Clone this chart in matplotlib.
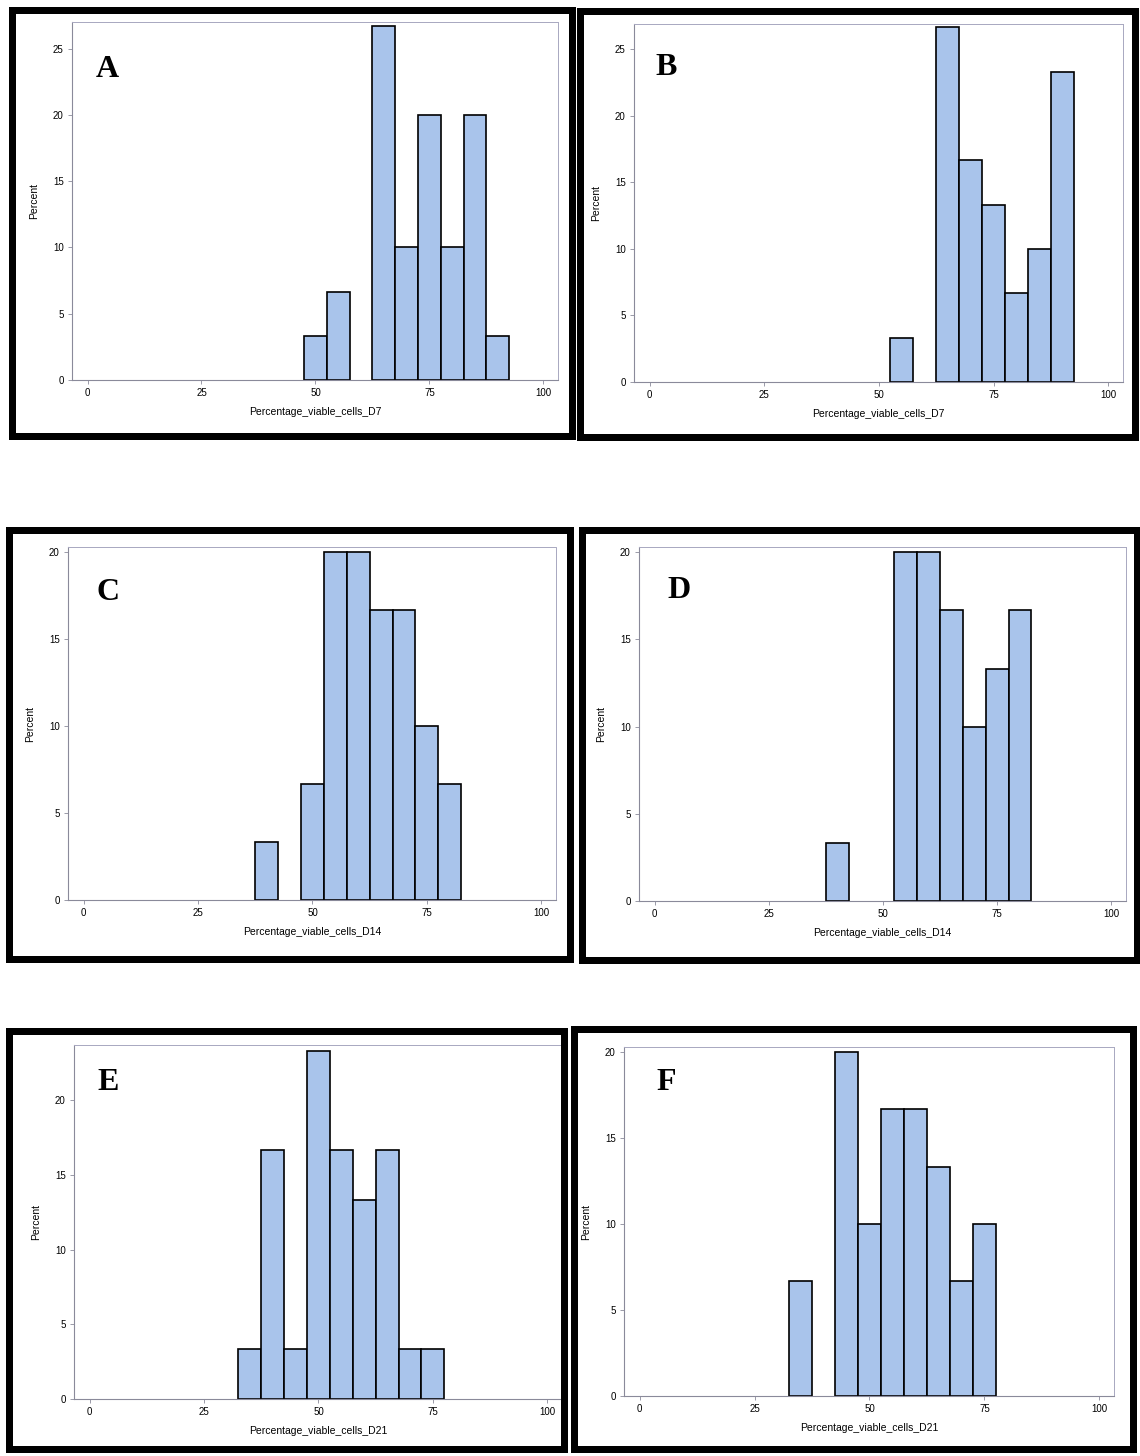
import matplotlib
matplotlib.use("Agg")
import matplotlib.pyplot as plt
from matplotlib.patches import Rectangle
import numpy as np

# bin centres (width 5) and percent of samples per bin
bins_a = [50, 55, 60, 65, 70, 75, 80, 85, 90]
pct_a = [3.33, 6.67, 0, 26.67, 10, 20, 10, 20, 3.33]
bins_b = [55, 60, 65, 70, 75, 80, 85, 90]
pct_b = [3.33, 0, 26.67, 16.67, 13.33, 6.67, 10, 23.33]
bins_c = [40, 45, 50, 55, 60, 65, 70, 75, 80]
pct_c = [3.33, 0, 6.67, 20, 20, 16.67, 16.67, 10, 6.67]
bins_d = [40, 45, 50, 55, 60, 65, 70, 75, 80]
pct_d = [3.33, 0, 0, 20, 20, 16.67, 10, 13.33, 16.67]
bins_e = [35, 40, 45, 50, 55, 60, 65, 70, 75]
pct_e = [3.33, 16.67, 3.33, 23.33, 16.67, 13.33, 16.67, 3.33, 3.33]
bins_f = [35, 40, 45, 50, 55, 60, 65, 70, 75]
pct_f = [6.67, 0, 20, 10, 16.67, 16.67, 13.33, 6.67, 10]

letters = ["A", "B", "C", "D", "E", "F"]
xlabels = ["Percentage_viable_cells_D7", "Percentage_viable_cells_D7",
           "Percentage_viable_cells_D14", "Percentage_viable_cells_D14",
           "Percentage_viable_cells_D21", "Percentage_viable_cells_D21"]
x_ticks = [0, 25, 50, 75, 100]

W, H = 1140, 1456
fig = plt.figure(figsize=(W / 100, H / 100), dpi=100)
fig.patch.set_facecolor("white")

sans = ["Liberation Sans Narrow", "Liberation Sans", "DejaVu Sans"]

# pixel boxes: axes (left, top, right, bottom), frame (left, top, right, bottom)
ax_px = [(72, 22, 558, 380), (634, 24, 1123, 382),
         (68, 547, 556, 900), (639, 547, 1126, 901),
         (74, 1045, 562, 1399), (624, 1047, 1114, 1396)]
frame_px = [(8, 7, 575, 440), (576, 8, 1138, 441),
            (5, 527, 573, 962), (578, 527, 1140, 963),
            (5, 1027, 567, 1452), (570, 1025, 1136, 1452)]
ytops = [27.0, 26.9, 20.3, 20.3, 23.7, 20.3]
letter_pos = [(96, 77), (655, 75), (96, 600), (667, 598), (97, 1090), (656, 1090)]

data = [(bins_a, pct_a), (bins_b, pct_b), (bins_c, pct_c),
        (bins_d, pct_d), (bins_e, pct_e), (bins_f, pct_f)]

for i, (bins, pct) in enumerate(data):
    l, t, r, b = ax_px[i]
    ax = fig.add_axes([l / W, 1 - b / H, (r - l) / W, (b - t) / H])
    bins = np.array(bins)
    pct = np.array(pct)
    keep = pct > 0
    ax.bar(bins[keep], pct[keep], width=5, color="#A9C4EB",
           edgecolor="black", linewidth=1.2, zorder=2)
    ax.set_xlim(-3.4, 103.2)
    ax.set_ylim(0, ytops[i])
    ax.set_xticks(x_ticks)
    ax.set_yticks(np.arange(0, ytops[i], 5))
    for s in ["left", "bottom"]:
        ax.spines[s].set_color("#8a8a9a")
        ax.spines[s].set_linewidth(0.8)
    for s in ["top", "right"]:
        ax.spines[s].set_color("#a8a8c0")
        ax.spines[s].set_linewidth(0.7)
        ax.spines[s].set_linestyle((0, (1, 1)))
    ax.tick_params(length=3, width=0.6, color="#8a8a9a", labelsize=7, pad=3)
    for lab in ax.get_xticklabels() + ax.get_yticklabels():
        lab.set_family(sans)
    ax.set_xlabel(xlabels[i], fontsize=7.5, family=sans, labelpad=6)
    ax.set_ylabel("Percent", fontsize=7.5, family=sans, labelpad=10)

    fl, ft, fr, fb = frame_px[i]
    th = 7
    fig.patches.append(Rectangle(((fl + th / 2) / W, 1 - (fb - th / 2) / H),
                                 (fr - fl - th) / W, (fb - ft - th) / H,
                                 transform=fig.transFigure, fill=False,
                                 edgecolor="black", linewidth=th * 0.72,
                                 zorder=5))

    lx, ly = letter_pos[i]
    fig.text(lx / W, 1 - ly / H, letters[i], fontsize=23, fontweight="bold",
             family=["Liberation Serif", "DejaVu Serif"], ha="left",
             va="baseline")

fig.savefig("out.png", dpi=100)
